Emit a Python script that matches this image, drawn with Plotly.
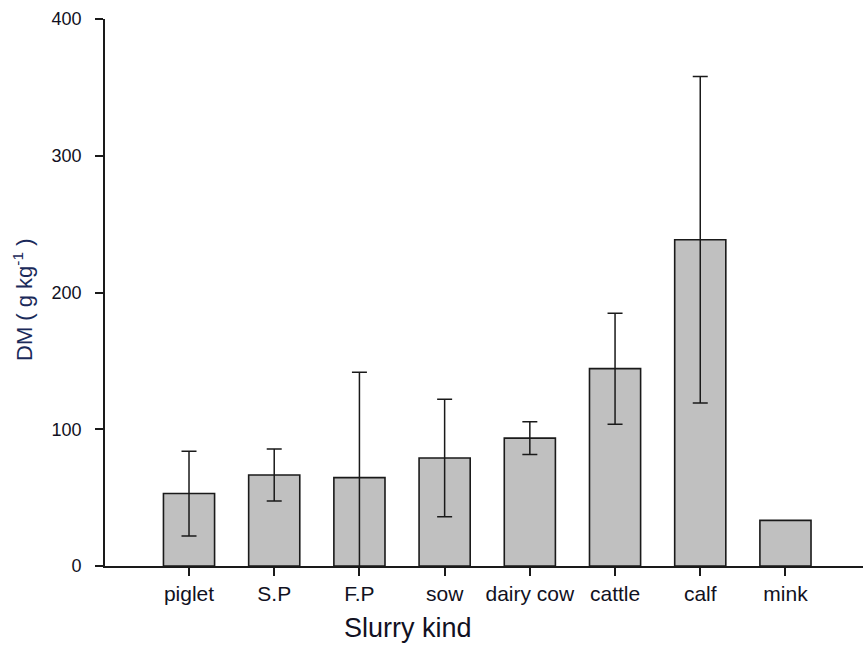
import plotly.graph_objects as go

categories = ["piglet", "S.P", "F.P", "sow", "dairy cow", "cattle", "calf", "mink"]
dm_mean = [53.0, 66.5, 64.6, 79.0, 93.5, 144.3, 238.6, 33.4]
dm_err = [31.0, 19.0, 77.0, 43.0, 12.0, 40.6, 119.4, None]
y_ticks = [0, 100, 200, 300, 400]

FONT = "Liberation Sans, Arial, sans-serif"

x_idx = list(range(len(categories)))
err_idx = [i for i, e in zip(x_idx, dm_err) if e is not None]
err_mean = [m for m, e in zip(dm_mean, dm_err) if e is not None]
err_val = [e for e in dm_err if e is not None]

fig = go.Figure()
fig.add_trace(go.Bar(
    x=x_idx,
    y=dm_mean,
    width=0.6,
    marker=dict(color="#C0C0C0", line=dict(color="#1a1a1a", width=1.6)),
    showlegend=False,
))
fig.add_trace(go.Scatter(
    x=err_idx, y=err_mean, mode="markers",
    marker=dict(size=1, opacity=0),
    error_y=dict(type="data", array=err_val, visible=True,
                 color="#1a1a1a", thickness=1.5, width=7.5),
    showlegend=False, hoverinfo="skip",
))

fig.update_layout(
    width=863, height=647,
    margin=dict(l=105, r=0, t=19, b=81),
    plot_bgcolor="white", paper_bgcolor="white",
    font=dict(family=FONT, size=13, color="#111111"),
    xaxis=dict(
        range=[-0.986, 7.91],
        tickmode="array",
        tickvals=x_idx,
        ticktext=categories,
        showline=True, linecolor="#1a1a1a", linewidth=1.6,
        ticks="outside", ticklen=8, tickwidth=1.5, tickcolor="#1a1a1a",
        showgrid=False, zeroline=False,
        tickfont=dict(family=FONT, size=21, color="#111122"),
    ),
    yaxis=dict(
        range=[0, 400],
        tickmode="array",
        tickvals=y_ticks,
        showline=True, linecolor="#1a1a1a", linewidth=1.6,
        ticks="outside", ticklen=8, tickwidth=1.5, tickcolor="#1a1a1a",
        showgrid=False, zeroline=False,
        ticklabelstandoff=10,
        tickfont=dict(family=FONT, size=18, color="#111122"),
    ),
)

fig.add_annotation(
    text="Slurry kind", xref="paper", yref="paper",
    x=(408 - 105) / 758, y=-(628 - 566) / 547,
    xanchor="center", yanchor="middle", showarrow=False,
    font=dict(family=FONT, size=27, color="#111122"),
)
fig.add_annotation(
    text="DM ( g kg<sup>-1</sup> )", xref="paper", yref="paper",
    x=-(105 - 23) / 758, y=(566 - 300) / 547,
    xanchor="center", yanchor="middle", showarrow=False, textangle=-90,
    font=dict(family=FONT, size=22, color="#1a2a5a"),
)

fig.write_html("out.html")
